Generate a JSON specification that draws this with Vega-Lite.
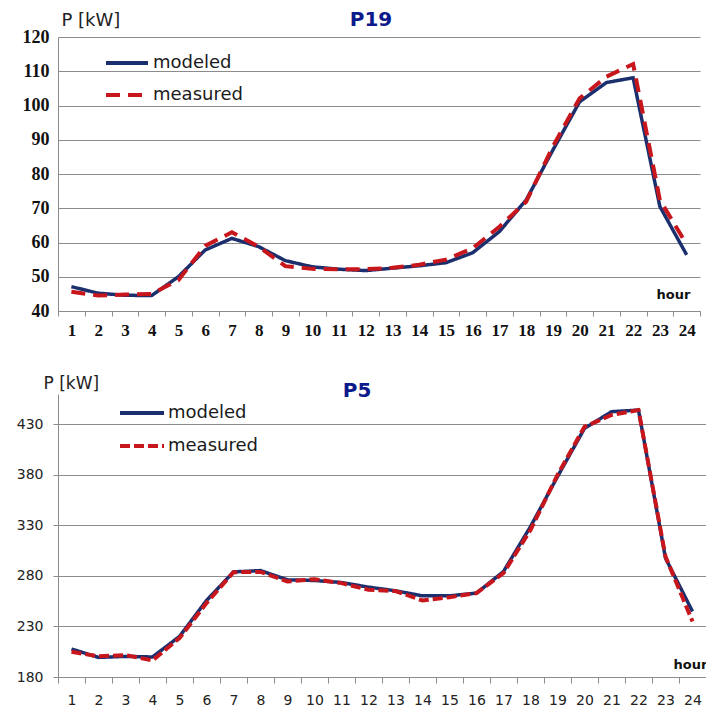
{
  "$schema": "https://vega.github.io/schema/vega-lite/v6.json",
  "background": "white",
  "padding": {"left": 16, "top": 10, "right": 0, "bottom": 0},
  "spacing": 83,
  "bounds": "flush",
  "config": {"view": {"stroke": null}},
  "datasets": {
    "p19": [
      {"hour": 1, "series": "modeled", "P": 47.1}, {"hour": 1, "series": "measured", "P": 45.6},
      {"hour": 2, "series": "modeled", "P": 45.2}, {"hour": 2, "series": "measured", "P": 44.5},
      {"hour": 3, "series": "modeled", "P": 44.6}, {"hour": 3, "series": "measured", "P": 44.8},
      {"hour": 4, "series": "modeled", "P": 44.5}, {"hour": 4, "series": "measured", "P": 45.0},
      {"hour": 5, "series": "modeled", "P": 50.0}, {"hour": 5, "series": "measured", "P": 49.0},
      {"hour": 6, "series": "modeled", "P": 57.8}, {"hour": 6, "series": "measured", "P": 59.0},
      {"hour": 7, "series": "modeled", "P": 61.2}, {"hour": 7, "series": "measured", "P": 63.0},
      {"hour": 8, "series": "modeled", "P": 58.8}, {"hour": 8, "series": "measured", "P": 58.8},
      {"hour": 9, "series": "modeled", "P": 54.7}, {"hour": 9, "series": "measured", "P": 53.1},
      {"hour": 10, "series": "modeled", "P": 52.9}, {"hour": 10, "series": "measured", "P": 52.3},
      {"hour": 11, "series": "modeled", "P": 52.2}, {"hour": 11, "series": "measured", "P": 52.2},
      {"hour": 12, "series": "modeled", "P": 51.8}, {"hour": 12, "series": "measured", "P": 52.2},
      {"hour": 13, "series": "modeled", "P": 52.5}, {"hour": 13, "series": "measured", "P": 52.6},
      {"hour": 14, "series": "modeled", "P": 53.2}, {"hour": 14, "series": "measured", "P": 53.5},
      {"hour": 15, "series": "modeled", "P": 54.1}, {"hour": 15, "series": "measured", "P": 55.0},
      {"hour": 16, "series": "modeled", "P": 57.0}, {"hour": 16, "series": "measured", "P": 58.3},
      {"hour": 17, "series": "modeled", "P": 63.2}, {"hour": 17, "series": "measured", "P": 64.6},
      {"hour": 18, "series": "modeled", "P": 72.4}, {"hour": 18, "series": "measured", "P": 71.9},
      {"hour": 19, "series": "modeled", "P": 87.0}, {"hour": 19, "series": "measured", "P": 88.0},
      {"hour": 20, "series": "modeled", "P": 101.1}, {"hour": 20, "series": "measured", "P": 102.1},
      {"hour": 21, "series": "modeled", "P": 106.7}, {"hour": 21, "series": "measured", "P": 108.4},
      {"hour": 22, "series": "modeled", "P": 108.1}, {"hour": 22, "series": "measured", "P": 112.1},
      {"hour": 23, "series": "modeled", "P": 70.5}, {"hour": 23, "series": "measured", "P": 72.4},
      {"hour": 24, "series": "modeled", "P": 56.4}, {"hour": 24, "series": "measured", "P": 59.5}
    ],
    "p5": [
      {"hour": 1, "series": "modeled", "P": 207.7}, {"hour": 1, "series": "measured", "P": 205.0},
      {"hour": 2, "series": "modeled", "P": 199.4}, {"hour": 2, "series": "measured", "P": 200.4},
      {"hour": 3, "series": "modeled", "P": 200.4}, {"hour": 3, "series": "measured", "P": 201.7},
      {"hour": 4, "series": "modeled", "P": 199.8}, {"hour": 4, "series": "measured", "P": 196.4},
      {"hour": 5, "series": "modeled", "P": 220.1}, {"hour": 5, "series": "measured", "P": 218.5},
      {"hour": 6, "series": "modeled", "P": 255.7}, {"hour": 6, "series": "measured", "P": 253.1},
      {"hour": 7, "series": "modeled", "P": 284.0}, {"hour": 7, "series": "measured", "P": 283.7},
      {"hour": 8, "series": "modeled", "P": 285.3}, {"hour": 8, "series": "measured", "P": 284.0},
      {"hour": 9, "series": "modeled", "P": 276.1}, {"hour": 9, "series": "measured", "P": 274.5},
      {"hour": 10, "series": "modeled", "P": 275.5}, {"hour": 10, "series": "measured", "P": 276.8},
      {"hour": 11, "series": "modeled", "P": 273.5}, {"hour": 11, "series": "measured", "P": 272.9},
      {"hour": 12, "series": "modeled", "P": 268.9}, {"hour": 12, "series": "measured", "P": 266.3},
      {"hour": 13, "series": "modeled", "P": 265.3}, {"hour": 13, "series": "measured", "P": 265.0},
      {"hour": 14, "series": "modeled", "P": 260.3}, {"hour": 14, "series": "measured", "P": 255.7},
      {"hour": 15, "series": "modeled", "P": 260.3}, {"hour": 15, "series": "measured", "P": 259.0},
      {"hour": 16, "series": "modeled", "P": 263.0}, {"hour": 16, "series": "measured", "P": 263.0},
      {"hour": 17, "series": "modeled", "P": 284.4}, {"hour": 17, "series": "measured", "P": 282.8},
      {"hour": 18, "series": "modeled", "P": 328.8}, {"hour": 18, "series": "measured", "P": 325.5},
      {"hour": 19, "series": "modeled", "P": 378.2}, {"hour": 19, "series": "measured", "P": 379.9},
      {"hour": 20, "series": "modeled", "P": 426.0}, {"hour": 20, "series": "measured", "P": 427.6},
      {"hour": 21, "series": "modeled", "P": 442.5}, {"hour": 21, "series": "measured", "P": 439.2},
      {"hour": 22, "series": "modeled", "P": 444.1}, {"hour": 22, "series": "measured", "P": 444.1},
      {"hour": 23, "series": "modeled", "P": 297.6}, {"hour": 23, "series": "measured", "P": 299.2},
      {"hour": 24, "series": "modeled", "P": 244.8}, {"hour": 24, "series": "measured", "P": 235.0}
    ]
  },
  "resolve": {
    "scale": {"x": "independent", "y": "independent", "color": "independent", "strokeDash": "independent"},
    "legend": {"color": "independent", "strokeDash": "independent"}
  },
  "vconcat": [
    {
      "width": 642,
      "height": 274,
      "data": {"name": "p19"},
      "title": {"text": "P19", "anchor": "middle", "frame": "group", "dx": -8, "offset": -35, "baseline": "alphabetic", "font": "DejaVu Sans", "fontSize": 20, "fontWeight": "bold", "color": "#0c1a8c"},
      "encoding": {
        "x": {"field": "hour", "type": "ordinal", "sort": null,
          "scale": {"type": "band", "paddingInner": 0, "paddingOuter": 0},
          "axis": {"tickBand": "extent", "grid": false, "domainColor": "#8c8c8c", "tickColor": "#8c8c8c", "tickSize": 5, "labelAngle": 0,
            "labelFont": "Liberation Serif", "labelFontWeight": "bold", "labelFontSize": 17, "labelColor": "#111111", "labelPadding": 6,
            "title": "hour", "titleX": 598, "titleY": -13, "titleAlign": "left", "titleBaseline": "alphabetic", "titleAngle": 0,
            "titleFont": "DejaVu Sans", "titleFontSize": 13, "titleFontWeight": "bold", "titleColor": "#111111"}},
        "y": {"field": "P", "type": "quantitative",
          "scale": {"domain": [40, 120], "nice": false, "zero": false},
          "axis": {"values": [40, 50, 60, 70, 80, 90, 100, 110, 120], "grid": true, "gridColor": "#8c8c8c", "gridWidth": 1, "domainColor": "#8c8c8c", "tickSize": 0,
            "labelFont": "Liberation Serif", "labelFontWeight": "bold", "labelFontSize": 18, "labelColor": "#111111", "labelPadding": 9,
            "title": "P [kW]", "titleAngle": 0, "titleAlign": "left", "titleBaseline": "alphabetic", "titleX": 3, "titleY": -12,
            "titleFont": "DejaVu Sans", "titleFontSize": 18, "titleFontWeight": "normal", "titleColor": "#222222"}},
        "color": {"field": "series", "type": "nominal",
          "scale": {"domain": ["modeled", "measured"], "range": ["#1b2f6e", "#c8161d"]},
          "legend": {"title": null, "orient": "none", "legendX": 46, "legendY": 3, "symbolType": "stroke", "symbolSize": 1764, "symbolStrokeWidth": 4,
            "labelFont": "DejaVu Sans", "labelFontSize": 18, "labelColor": "#1a1a1a", "labelOffset": 3, "rowPadding": -14, "padding": 0}},
        "strokeDash": {"field": "series", "type": "nominal",
          "scale": {"domain": ["modeled", "measured"], "range": [[1, 0], [14, 8]]},
          "legend": {"title": null, "orient": "none", "legendX": 46, "legendY": 3, "symbolType": "stroke", "symbolSize": 1764, "symbolStrokeWidth": 4,
            "labelFont": "DejaVu Sans", "labelFontSize": 18, "labelColor": "#1a1a1a", "labelOffset": 3, "rowPadding": -14, "padding": 0}}
      },
      "layer": [
        {"transform": [{"filter": "datum.series === 'modeled'"}], "mark": {"type": "line", "strokeWidth": 3.5}},
        {"transform": [{"filter": "datum.series === 'measured'"}], "mark": {"type": "line", "strokeWidth": 4}}
      ]
    },
    {
      "width": 648,
      "height": 283,
      "data": {"name": "p5"},
      "title": {"text": "P5", "anchor": "middle", "frame": "group", "dx": -25, "offset": -43, "baseline": "alphabetic", "font": "DejaVu Sans", "fontSize": 20, "fontWeight": "bold", "color": "#0c1a8c"},
      "encoding": {
        "x": {"field": "hour", "type": "ordinal", "sort": null,
          "scale": {"type": "band", "paddingInner": 0, "paddingOuter": -0.0882, "align": 0},
          "axis": {"tickBand": "extent", "grid": false, "domainColor": "#8c8c8c", "tickColor": "#8c8c8c", "tickSize": 6, "labelAngle": 0,
            "labelFont": "DejaVu Sans", "labelFontSize": 14, "labelColor": "#222222", "labelPadding": 10,
            "title": "hour", "titleX": 615, "titleY": -9, "titleAlign": "left", "titleBaseline": "alphabetic", "titleAngle": 0,
            "titleFont": "DejaVu Sans", "titleFontSize": 13, "titleFontWeight": "bold", "titleColor": "#111111"}},
        "y": {"field": "P", "type": "quantitative",
          "scale": {"domain": [180, 460], "nice": false, "zero": false},
          "axis": {"values": [180, 230, 280, 330, 380, 430], "grid": true, "gridColor": "#8c8c8c", "gridWidth": 1, "domainColor": "#8c8c8c", "tickColor": "#8c8c8c", "tickSize": 5,
            "labelFont": "DejaVu Sans", "labelFontSize": 14, "labelColor": "#222222", "labelPadding": 10,
            "title": "P [kW]", "titleAngle": 0, "titleAlign": "left", "titleBaseline": "alphabetic", "titleX": -15, "titleY": -6,
            "titleFont": "DejaVu Sans", "titleFontSize": 17, "titleFontWeight": "normal", "titleColor": "#222222"}},
        "color": {"field": "series", "type": "nominal",
          "scale": {"domain": ["modeled", "measured"], "range": ["#1b2f6e", "#c8161d"]},
          "legend": {"title": null, "orient": "none", "legendX": 60, "legendY": -5, "symbolType": "stroke", "symbolSize": 1936, "symbolStrokeWidth": 4,
            "labelFont": "DejaVu Sans", "labelFontSize": 18, "labelColor": "#1a1a1a", "labelOffset": 2, "rowPadding": -19, "padding": 0}},
        "strokeDash": {"field": "series", "type": "nominal",
          "scale": {"domain": ["modeled", "measured"], "range": [[1, 0], [10, 4]]},
          "legend": {"title": null, "orient": "none", "legendX": 60, "legendY": -5, "symbolType": "stroke", "symbolSize": 1936, "symbolStrokeWidth": 4,
            "labelFont": "DejaVu Sans", "labelFontSize": 18, "labelColor": "#1a1a1a", "labelOffset": 2, "rowPadding": -19, "padding": 0}}
      },
      "layer": [
        {"transform": [{"filter": "datum.series === 'modeled'"}], "mark": {"type": "line", "strokeWidth": 3.5}},
        {"transform": [{"filter": "datum.series === 'measured'"}], "mark": {"type": "line", "strokeWidth": 4}}
      ]
    }
  ]
}
